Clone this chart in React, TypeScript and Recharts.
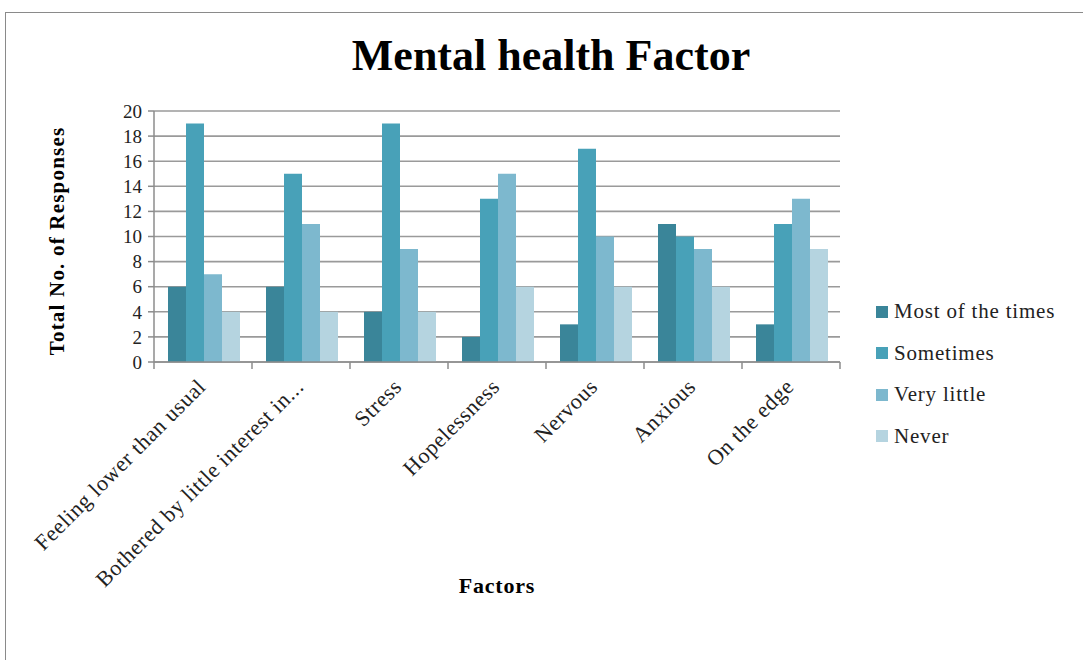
import React from "react";
import { BarChart, Bar, XAxis, YAxis, CartesianGrid } from "recharts";

const factors = [
  "Feeling lower than usual",
  "Bothered by little interest in...",
  "Stress",
  "Hopelessness",
  "Nervous",
  "Anxious",
  "On the edge",
];
const mostOfTheTimes = [6, 6, 4, 2, 3, 11, 3];
const sometimes = [19, 15, 19, 13, 17, 10, 11];
const veryLittle = [7, 11, 9, 15, 10, 9, 13];
const never = [4, 4, 4, 6, 6, 6, 9];
const yTicks = [0, 2, 4, 6, 8, 10, 12, 14, 16, 18, 20];

const series = [
  { key: "most", name: "Most of the times", color: "#3a8599" },
  { key: "some", name: "Sometimes", color: "#48a1b8" },
  { key: "little", name: "Very little", color: "#7db8ce" },
  { key: "never", name: "Never", color: "#b5d4e0" },
];

const data = factors.map((f, i) => ({
  factor: f,
  most: mostOfTheTimes[i],
  some: sometimes[i],
  little: veryLittle[i],
  never: never[i],
}));

const W = 1083;
const H = 660;
const PLOT_LEFT = 154;
const PLOT_RIGHT = 840;
const Y_AXIS_W = 60;
const HALF_BAND = (PLOT_RIGHT - PLOT_LEFT) / factors.length / 2;
const SERIF = "'Liberation Serif', 'DejaVu Serif', serif";

function FactorTick(props: any) {
  const { x, y, payload, index } = props;
  const last = index === factors.length - 1;
  const ay = y - 2;
  const tx = x + 4;
  const ty = y + 24;
  return (
    <g>
      <line x1={x - HALF_BAND} y1={ay} x2={x - HALF_BAND} y2={ay + 7} stroke="#8c8c8c" strokeWidth={1.5} />
      {last && (
        <line x1={x + HALF_BAND} y1={ay} x2={x + HALF_BAND} y2={ay + 7} stroke="#8c8c8c" strokeWidth={1.5} />
      )}
      <text
        x={tx}
        y={ty}
        textAnchor="end"
        transform={`rotate(-45, ${tx}, ${ty})`}
        fontFamily={SERIF}
        fontSize={22}
        letterSpacing={0.6}
        fill="#222"
      >
        {payload.value}
      </text>
    </g>
  );
}

export default function App() {
  return (
    <div style={{ position: "absolute", left: 0, top: 0, width: W, height: H, background: "#fff", overflow: "hidden" }}>
      <div
        style={{
          position: "absolute",
          left: 5,
          top: 12,
          width: W,
          height: H,
          borderTop: "1.5px solid #8a8a8a",
          borderLeft: "1.5px solid #8a8a8a",
        }}
      />
      <div
        style={{
          position: "absolute",
          left: 0,
          width: 1102,
          top: 30,
          textAlign: "center",
          fontFamily: SERIF,
          fontWeight: "bold",
          fontSize: 44,
          color: "#000",
        }}
      >
        Mental health Factor
      </div>
      <div
        style={{
          position: "absolute",
          left: 57,
          top: 241,
          transform: "translate(-50%, -50%) rotate(-90deg)",
          whiteSpace: "nowrap",
          fontFamily: SERIF,
          fontWeight: "bold",
          fontSize: 21,
          letterSpacing: 1.2,
          color: "#000",
        }}
      >
        Total No. of Responses
      </div>
      <div
        style={{
          position: "absolute",
          left: 497,
          top: 586,
          transform: "translate(-50%, -50%)",
          fontFamily: SERIF,
          fontWeight: "bold",
          fontSize: 22,
          letterSpacing: 0.8,
          color: "#000",
        }}
      >
        Factors
      </div>
      <div style={{ position: "absolute", left: 876, top: 291 }}>
        {series.map((s) => (
          <div key={s.key} style={{ display: "flex", alignItems: "center", height: 41.5 }}>
            <span style={{ width: 12, height: 12, background: s.color, marginRight: 6, display: "inline-block" }} />
            <span style={{ fontFamily: SERIF, fontSize: 21, letterSpacing: 0.8, color: "#222" }}>{s.name}</span>
          </div>
        ))}
      </div>
      <div style={{ position: "absolute", left: 0, top: 0 }}>
        <BarChart
          width={W}
          height={H}
          data={data}
          margin={{ top: 111, right: W - PLOT_RIGHT, left: PLOT_LEFT - Y_AXIS_W, bottom: 78 }}
          barCategoryGap={14}
          barGap={0}
        >
          <CartesianGrid vertical={false} stroke="#9a9a9a" strokeWidth={1.6} />
          <XAxis
            dataKey="factor"
            interval={0}
            height={220}
            axisLine={{ stroke: "#8c8c8c", strokeWidth: 1.5 }}
            tickLine={false}
            tickSize={0}
            tick={<FactorTick />}
          />
          <YAxis
            width={Y_AXIS_W}
            domain={[0, 20]}
            ticks={yTicks}
            interval={0}
            axisLine={{ stroke: "#8c8c8c", strokeWidth: 1.5 }}
            tickLine={{ stroke: "#8c8c8c", strokeWidth: 1.5 }}
            tickSize={6}
            tickMargin={6}
            tick={{ fontFamily: SERIF, fontSize: 19, fill: "#222" }}
          />
          {series.map((s) => (
            <Bar key={s.key} dataKey={s.key} name={s.name} fill={s.color} isAnimationActive={false} />
          ))}
        </BarChart>
      </div>
    </div>
  );
}
